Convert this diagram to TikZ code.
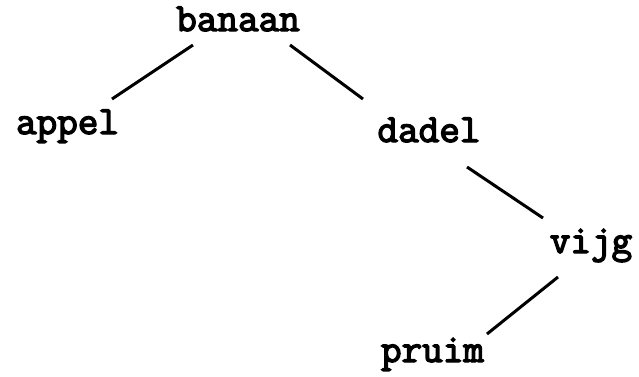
\documentclass[tikz,border=0pt]{standalone}
\usepackage{fontspec}
\newfontfamily\treefont[FakeBold=3.5]{Latin Modern Mono}
\tikzset{
  word/.style={anchor=base, inner sep=0pt, font=\fontsize{40}{46}\selectfont\treefont},
  edge/.style={line width=3pt, black}
}
\begin{document}
\begin{tikzpicture}[x=1pt,y=-1pt]
\useasboundingbox (0,0) rectangle (639,376);
\node[word] (banaan) at (238,31) {banaan};
\node[word] (appel) at (67.5,134) {appel};
\node[word] (dadel) at (429,142) {dadel};
\node[word] (vijg) at (591,253) {vijg};
\node[word] (pruim) at (432.5,362) {pruim};
\draw[edge] ([shift={(-45,14)}]banaan.base) -- ([shift={(44.5,-35)}]appel.base);
\draw[edge] ([shift={(52,14)}]banaan.base) -- ([shift={(-66,-43)}]dadel.base);
\draw[edge] ([shift={(38,25)}]dadel.base) -- ([shift={(-48,-35)}]vijg.base);
\draw[edge] ([shift={(-33,24)}]vijg.base) -- ([shift={(54.5,-28)}]pruim.base);
\end{tikzpicture}
\end{document}
